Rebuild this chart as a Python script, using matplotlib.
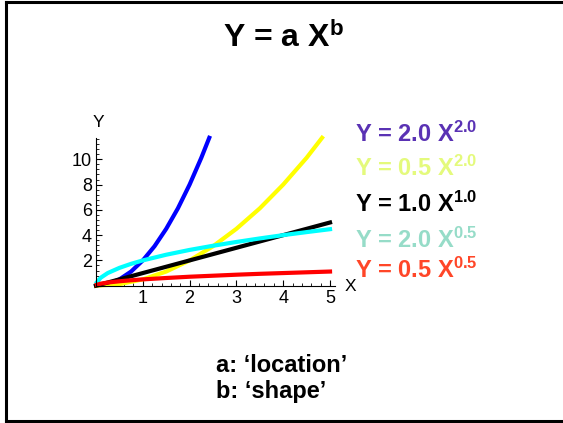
import numpy as np
import matplotlib
matplotlib.use('agg')
import matplotlib.pyplot as plt
from matplotlib.ticker import MultipleLocator, AutoMinorLocator
from matplotlib.lines import Line2D

plt.rcParams['font.family'] = ['Liberation Sans', 'DejaVu Sans']
plt.rcParams['mathtext.fontset'] = 'custom'
plt.rcParams['mathtext.rm'] = 'Liberation Sans:bold'
plt.rcParams['mathtext.it'] = 'Liberation Sans:bold'
plt.rcParams['mathtext.bf'] = 'Liberation Sans:bold'

# curves
x_blue = [0, 0.25, 0.5, 0.75, 1.0, 1.25, 1.5, 1.75, 2.0, 2.25, 2.42]
y_blue = [0, 0.12, 0.5, 1.12, 2.0, 3.12, 4.5, 6.12, 8.0, 10.12, 11.7]

x_yellow = [0, 0.5, 1.0, 1.5, 2.0, 2.5, 3.0, 3.5, 4.0, 4.5, 4.83]
y_yellow = [0, 0.12, 0.5, 1.12, 2.0, 3.12, 4.5, 6.12, 8.0, 10.12, 11.7]

x_black = [0, 1, 2, 3, 4, 5]
y_black = [0, 1, 2, 3, 4, 5]

x_cyan = [0.02, 0.1, 0.25, 0.5, 0.75, 1.0, 1.5, 2.0, 2.5, 3.0, 3.5, 4.0, 4.5, 5.0]
y_cyan = [0.28, 0.63, 1.0, 1.41, 1.73, 2.0, 2.45, 2.83, 3.16, 3.46, 3.74, 4.0, 4.24, 4.47]

x_red = [0.02, 0.1, 0.25, 0.5, 0.75, 1.0, 1.5, 2.0, 2.5, 3.0, 3.5, 4.0, 4.5, 5.0]
y_red = [0.07, 0.16, 0.25, 0.35, 0.43, 0.5, 0.61, 0.71, 0.79, 0.87, 0.94, 1.0, 1.06, 1.12]

labels = ['Y = 2.0 X$^{2.0}$', 'Y = 0.5 X$^{2.0}$', 'Y = 1.0 X$^{1.0}$',
          'Y = 2.0 X$^{0.5}$', 'Y = 0.5 X$^{0.5}$']
label_colors = ['#5a32b4', '#e4fa7c', '#000000', '#96dcc8', '#ff4628']
label_y = [142, 176, 212, 248, 278]

W, H = 563, 423
fig = plt.figure(figsize=(W / 100, H / 100), dpi=100)


def fx(px):
    return px / W


def fy(py):
    return 1 - py / H


# frame
for xs, ys in [([5.5, 5.5], [2.5, 420.5]), ([5.5, 563], [2.5, 2.5]), ([5.5, 563], [420.5, 420.5])]:
    fig.add_artist(Line2D([fx(v) for v in xs], [fy(v) for v in ys], color='black', lw=2.2))

ax = fig.add_axes([fx(96), fy(285.7), fx(334.7) - fx(96), fy(137.8) - fy(285.7)])
ax.set_xlim(0, 5.1)
ax.set_ylim(0, 11.7)
ax.patch.set_visible(False)
for s in ['top', 'right']:
    ax.spines[s].set_visible(False)
for s in ['left', 'bottom']:
    ax.spines[s].set_linewidth(0.8)

ax.xaxis.set_major_locator(MultipleLocator(1))
ax.yaxis.set_major_locator(MultipleLocator(2))
ax.xaxis.set_minor_locator(AutoMinorLocator(5))
ax.yaxis.set_minor_locator(AutoMinorLocator(5))
ax.tick_params(which='major', direction='in', length=4, width=0.8, labelsize=13, pad=3)
ax.tick_params(which='minor', direction='in', length=2, width=0.6)
ax.set_xticks([1, 2, 3, 4, 5])
ax.set_yticks([2, 4, 6, 8, 10])

lw = 3.0
ax.plot(x_blue, y_blue, color='#0000ff', lw=lw, clip_on=False)
ax.plot(x_yellow, y_yellow, color='#ffff00', lw=lw, clip_on=False)
ax.plot(x_black, y_black, color='#000000', lw=lw, clip_on=False)
ax.plot(x_cyan, y_cyan, color='#00ffff', lw=lw, clip_on=False)
ax.plot(x_red, y_red, color='#ff0000', lw=lw, clip_on=False)

fig.text(fx(98), fy(127), 'Y', fontsize=12.5, ha='center', va='baseline')
fig.text(fx(350), fy(291), 'X', fontsize=12.5, ha='center', va='baseline')

fig.text(fx(223), fy(46.7), 'Y = a X$^{b}$', fontsize=23, fontweight='bold',
         ha='left', va='baseline')

for lab, c, yb in zip(labels, label_colors, label_y):
    fig.text(fx(355), fy(yb), lab, fontsize=17, fontweight='bold', color=c,
             ha='left', va='baseline')

fig.text(fx(216), fy(372), "a: \u2018location\u2019", fontsize=17, fontweight='bold',
         ha='left', va='baseline')
fig.text(fx(216), fy(398), "b: \u2018shape\u2019", fontsize=17, fontweight='bold',
         ha='left', va='baseline')

fig.savefig('out.png', dpi=100)
